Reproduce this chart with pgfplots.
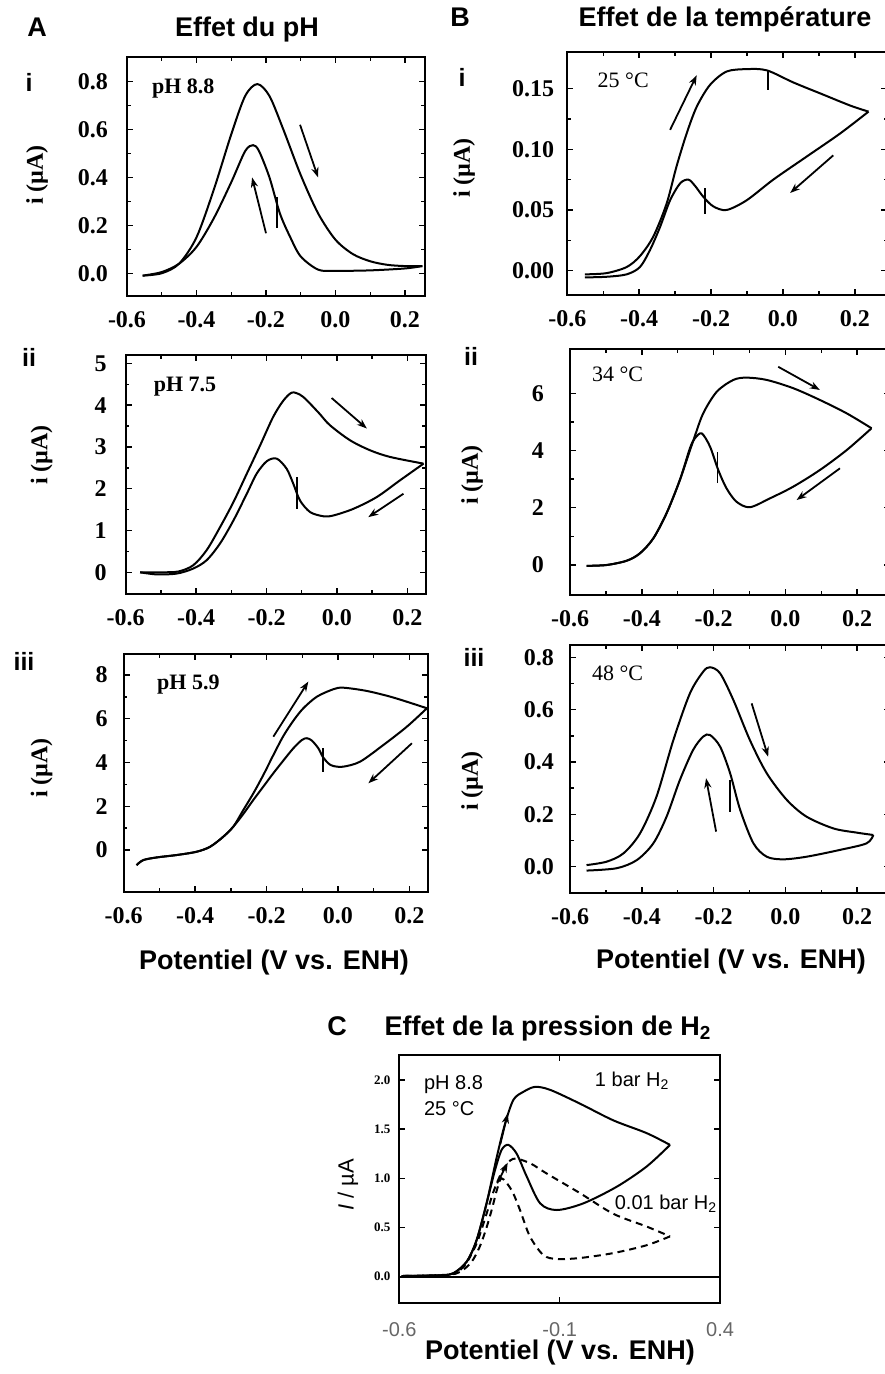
\documentclass[border=0pt]{standalone}
\usepackage{pgfplots}
\pgfplotsset{compat=1.18}
\usepackage{fontspec}
\setmainfont{Liberation Serif}
\setsansfont{Liberation Sans}
\usetikzlibrary{arrows.meta}

\pgfplotsset{
  cv/.style={
    scale only axis, anchor=south west,
    axis line style={line width=0.9pt},
    every tick/.style={black, line width=0.7pt},
    major tick length=3pt, minor tick length=1.8pt,
    tick pos=both, tick align=inside,
    xticklabel pos=lower, yticklabel pos=left,
    tick label style={font=\bfseries\fontsize{12}{12}\selectfont},
    /pgf/number format/assume math mode=true,
    xticklabel style={yshift=-4pt},
    minor x tick num=1, minor y tick num=1,
    xtick={-0.6,-0.4,-0.2,0,0.2}, xticklabels={-0.6,-0.4,-0.2,0.0,0.2},
  },
  cvl/.style={black, line width=1pt, smooth, tension=0.5, mark=none},
}
\tikzset{
  arr/.style={-{Stealth[length=5pt,width=3.6pt]}, line width=0.9pt},
  mk/.style={line width=0.9pt},
}
\newcommand{\ttl}{\sffamily\bfseries\fontsize{13.5}{14}\selectfont}
\newcommand{\rom}{\sffamily\bfseries\fontsize{12.5}{13}\selectfont}
\newcommand{\ylab}{\bfseries\fontsize{12}{12}\selectfont}
\newcommand{\anA}{\bfseries\fontsize{11}{11}\selectfont}
\newcommand{\anB}{\fontsize{11}{11}\selectfont}
\newcommand{\anC}{\sffamily\fontsize{10}{10}\selectfont}

\begin{document}
\begin{tikzpicture}
\useasboundingbox (0,0) rectangle (442pt,-687pt);

% ---------------- titles and labels ----------------
\node[anchor=base,font=\ttl] at (18.5pt,-18.35pt) {A};
\node[anchor=base,font=\ttl] at (123.5pt,-18.35pt) {Effet du pH};
\node[anchor=base,font=\ttl] at (230pt,-13.35pt) {B};
\node[anchor=base,font=\ttl] at (362.5pt,-13.35pt) {Effet de la température};
\node[anchor=base,font=\ttl] at (168.5pt,-517.5pt) {C};
\node[anchor=base,font=\ttl] at (274pt,-517.5pt) {Effet de la pression de H\textsubscript{2}};

\node[anchor=base,font=\rom] at (14.5pt,-45.85pt) {i};
\node[anchor=base,font=\rom] at (14.5pt,-183.35pt) {ii};
\node[anchor=base,font=\rom] at (12pt,-335pt) {iii};
\node[anchor=base,font=\rom] at (231pt,-43.35pt) {i};
\node[anchor=base,font=\rom] at (235.5pt,-182.5pt) {ii};
\node[anchor=base,font=\rom] at (237pt,-333.35pt) {iii};

\node[rotate=90,font=\ylab] at (18.5pt,-87.5pt) {i (µA)};
\node[rotate=90,font=\ylab] at (20.85pt,-227.5pt) {i (µA)};
\node[rotate=90,font=\ylab] at (20.85pt,-384pt) {i (µA)};
\node[rotate=90,font=\ylab] at (232pt,-84pt) {i (µA)};
\node[rotate=90,font=\ylab] at (236pt,-237.5pt) {i (µA)};
\node[rotate=90,font=\ylab] at (236pt,-390.5pt) {i (µA)};
\node[rotate=90,font=\sffamily\fontsize{11}{11}\selectfont] at (174pt,-592.5pt) {\textit{I} / µA};

\node[anchor=base,font=\ttl] at (137pt,-484.65pt) {Potentiel (V vs. ENH)};
\node[anchor=base,font=\ttl] at (365.5pt,-484pt) {Potentiel (V vs. ENH)};
\node[anchor=base,font=\ttl] at (280pt,-679.5pt) {Potentiel (V vs. ENH)};

% ---------------- A-i : pH 8.8 ----------------
\begin{axis}[cv, at={(63.5pt,-148pt)}, width=149pt, height=119.5pt,
  xmin=-0.6, xmax=0.2576, ymin=-0.095, ymax=0.903,
  ytick={0,0.2,0.4,0.6,0.8}, yticklabels={0.0,0.2,0.4,0.6,0.8},
  yticklabel style={xshift=-6pt}]
\addplot[cvl] coordinates {(-0.555,-0.01) (-0.50,0.00) (-0.45,0.04) (-0.40,0.15) (-0.35,0.35) (-0.30,0.58) (-0.26,0.74) (-0.225,0.79) (-0.19,0.74) (-0.15,0.60) (-0.10,0.41) (-0.05,0.25) (0.00,0.14) (0.05,0.08) (0.10,0.05) (0.15,0.035) (0.20,0.03) (0.25,0.03)};
\addplot[cvl] coordinates {(0.25,0.03) (0.20,0.02) (0.10,0.012) (0.00,0.01) (-0.05,0.015) (-0.10,0.07) (-0.13,0.15) (-0.16,0.25) (-0.19,0.40) (-0.22,0.51) (-0.237,0.535) (-0.26,0.51) (-0.30,0.38) (-0.35,0.23) (-0.40,0.11) (-0.45,0.04) (-0.50,0.005) (-0.555,-0.01)};
\node[anchor=base west,font=\anA] at (axis cs:-0.548,0.75) {pH 8.8};
\draw[arr] (axis cs:-0.102,0.62) -- (axis cs:-0.05,0.40);
\draw[arr] (axis cs:-0.20,0.167) -- (axis cs:-0.24,0.40);
\draw[mk] (axis cs:-0.168,0.19) -- (axis cs:-0.168,0.32);
\end{axis}

% ---------------- A-ii : pH 7.5 ----------------
\begin{axis}[cv, at={(62.85pt,-297pt)}, width=150.15pt, height=119.5pt,
  xmin=-0.6, xmax=0.253, ymin=-0.519, ymax=5.199,
  ytick={0,1,2,3,4,5},
  yticklabel style={xshift=-6pt}]
\addplot[cvl] coordinates {(-0.559,0) (-0.50,0.0) (-0.45,0.02) (-0.408,0.17) (-0.370,0.53) (-0.332,1.08) (-0.294,1.68) (-0.256,2.36) (-0.218,3.04) (-0.181,3.72) (-0.152,4.11) (-0.128,4.30) (-0.105,4.25) (-0.086,4.12) (-0.05,3.80) (-0.020,3.52) (0.037,3.16) (0.094,2.92) (0.151,2.76) (0.246,2.60)};
\addplot[cvl] coordinates {(0.246,2.60) (0.179,2.20) (0.113,1.80) (0.047,1.52) (-0.010,1.36) (-0.038,1.34) (-0.076,1.44) (-0.105,1.72) (-0.124,2.12) (-0.143,2.48) (-0.171,2.72) (-0.199,2.66) (-0.228,2.36) (-0.256,1.88) (-0.294,1.24) (-0.332,0.69) (-0.370,0.29) (-0.408,0.09) (-0.455,-0.03) (-0.512,-0.05) (-0.559,0)};
\node[anchor=base west,font=\anA] at (axis cs:-0.540,4.32) {pH 7.5};
\draw[arr] (axis cs:-0.015,4.17) -- (axis cs:0.085,3.44);
\draw[arr] (axis cs:0.189,1.88) -- (axis cs:0.089,1.32);
\draw[mk] (axis cs:-0.114,1.52) -- (axis cs:-0.114,2.28);
\end{axis}

% ---------------- A-iii : pH 5.9 ----------------
\begin{axis}[cv, at={(61.85pt,-446pt)}, width=152.15pt, height=119pt,
  xmin=-0.6, xmax=0.252, ymin=-1.92, ymax=8.96,
  ytick={0,2,4,6,8},
  yticklabel style={xshift=-4.5pt}]
\addplot[cvl] coordinates {(-0.564,-0.69) (-0.545,-0.46) (-0.508,-0.34) (-0.452,-0.23) (-0.396,-0.08) (-0.358,0.15) (-0.321,0.61) (-0.293,1.07) (-0.265,1.83) (-0.237,2.59) (-0.209,3.43) (-0.181,4.34) (-0.153,5.21) (-0.125,5.91) (-0.097,6.48) (-0.059,7.01) (-0.013,7.35) (0.015,7.42) (0.081,7.27) (0.155,6.97) (0.249,6.48)};
\addplot[cvl] coordinates {(0.249,6.48) (0.193,5.64) (0.127,4.80) (0.062,4.04) (0.015,3.81) (-0.013,3.84) (-0.027,3.96) (-0.043,4.27) (-0.055,4.65) (-0.073,5.00) (-0.087,5.11) (-0.101,5.03) (-0.125,4.65) (-0.153,4.09) (-0.181,3.51) (-0.209,2.90) (-0.237,2.29) (-0.265,1.65) (-0.293,1.07) (-0.321,0.61) (-0.358,0.15) (-0.396,-0.08) (-0.452,-0.23) (-0.508,-0.34) (-0.545,-0.46) (-0.564,-0.69)};
\node[anchor=base west,font=\anA] at (axis cs:-0.526,7.32) {pH 5.9};
\draw[arr] (axis cs:-0.181,5.18) -- (axis cs:-0.083,7.70);
\draw[arr] (axis cs:0.207,4.88) -- (axis cs:0.085,3.05);
\draw[mk] (axis cs:-0.043,3.58) -- (axis cs:-0.043,4.65);
\end{axis}

% ---------------- B-i : 25 C ----------------
\begin{axis}[cv, at={(283.65pt,-147.5pt)}, width=159.95pt, height=121.5pt,
  xmin=-0.6, xmax=0.29, ymin=-0.020, ymax=0.1801,
  ytick={0,0.05,0.10,0.15}, yticklabels={0.00,0.05,0.10,0.15},
  yticklabel style={xshift=-3pt}]
\addplot[cvl] coordinates {(-0.551,-0.003) (-0.491,-0.002) (-0.435,0.003) (-0.398,0.012) (-0.361,0.028) (-0.324,0.055) (-0.296,0.086) (-0.268,0.113) (-0.240,0.135) (-0.203,0.153) (-0.157,0.164) (-0.101,0.166) (-0.045,0.165) (0.029,0.155) (0.112,0.145) (0.187,0.136) (0.238,0.131)};
\addplot[cvl] coordinates {(0.238,0.131) (0.159,0.113) (0.066,0.094) (-0.027,0.075) (-0.101,0.058) (-0.157,0.050) (-0.194,0.053) (-0.222,0.061) (-0.245,0.070) (-0.263,0.075) (-0.286,0.072) (-0.314,0.058) (-0.342,0.036) (-0.370,0.017) (-0.398,0.003) (-0.435,-0.003) (-0.491,-0.005) (-0.551,-0.0055)};
\node[anchor=base west,font=\anB] at (axis cs:-0.535,0.151) {25 °C};
\draw[arr] (axis cs:-0.314,0.116) -- (axis cs:-0.240,0.161);
\draw[arr] (axis cs:0.140,0.095) -- (axis cs:0.020,0.064);
\draw[mk] (axis cs:-0.041,0.149) -- (axis cs:-0.041,0.165);
\draw[mk] (axis cs:-0.217,0.047) -- (axis cs:-0.217,0.068);
\end{axis}

% ---------------- B-ii : 34 C ----------------
\begin{axis}[cv, at={(285pt,-297.5pt)}, width=159.75pt, height=122.85pt,
  xmin=-0.6, xmax=0.29, ymin=-1.049, ymax=7.541,
  ytick={0,2,4,6},
  yticklabel style={xshift=-9.5pt}]
\addplot[cvl] coordinates {(-0.554,-0.03) (-0.498,0) (-0.442,0.15) (-0.405,0.41) (-0.368,0.93) (-0.331,1.81) (-0.294,2.97) (-0.256,4.37) (-0.229,5.30) (-0.191,6.06) (-0.145,6.47) (-0.108,6.55) (-0.052,6.47) (0.022,6.18) (0.096,5.77) (0.171,5.30) (0.240,4.78)};
\addplot[cvl] coordinates {(0.240,4.78) (0.171,4.02) (0.096,3.32) (0.022,2.74) (-0.043,2.33) (-0.099,2.02) (-0.136,2.21) (-0.164,2.68) (-0.187,3.32) (-0.210,4.14) (-0.233,4.60) (-0.252,4.43) (-0.266,4.08) (-0.294,2.97) (-0.331,1.81) (-0.368,0.93) (-0.405,0.41) (-0.442,0.15) (-0.498,0) (-0.554,-0.03)};
\node[anchor=base west,font=\anB] at (axis cs:-0.558,6.41) {34 °C};
\draw[arr] (axis cs:-0.020,6.93) -- (axis cs:0.096,6.12);
\draw[arr] (axis cs:0.152,3.38) -- (axis cs:0.031,2.27);
\draw[mk] (axis cs:-0.189,2.86) -- (axis cs:-0.189,3.96);
\end{axis}

% ---------------- B-iii : 48 C ----------------
\begin{axis}[cv, at={(285pt,-446.67pt)}, width=159.75pt, height=124.17pt,
  xmin=-0.6, xmax=0.29, ymin=-0.102, ymax=0.847,
  ytick={0,0.2,0.4,0.6,0.8}, yticklabels={0.0,0.2,0.4,0.6,0.8},
  yticklabel style={xshift=-4.5pt}]
\addplot[cvl] coordinates {(-0.554,0.006) (-0.498,0.019) (-0.451,0.051) (-0.405,0.127) (-0.359,0.268) (-0.312,0.484) (-0.266,0.662) (-0.229,0.745) (-0.210,0.762) (-0.182,0.739) (-0.145,0.637) (-0.099,0.484) (-0.052,0.357) (0.004,0.255) (0.059,0.191) (0.134,0.146) (0.199,0.130) (0.245,0.121)};
\addplot[cvl] coordinates {(0.245,0.121) (0.226,0.089) (0.152,0.064) (0.059,0.038) (-0.006,0.028) (-0.052,0.038) (-0.089,0.089) (-0.126,0.217) (-0.154,0.357) (-0.182,0.459) (-0.210,0.503) (-0.229,0.497) (-0.257,0.446) (-0.294,0.331) (-0.331,0.191) (-0.368,0.089) (-0.414,0.025) (-0.470,-0.006) (-0.554,-0.015)};
\node[anchor=base west,font=\anB] at (axis cs:-0.558,0.711) {48 °C};
\draw[arr] (axis cs:-0.094,0.624) -- (axis cs:-0.048,0.420);
\draw[arr] (axis cs:-0.193,0.134) -- (axis cs:-0.221,0.338);
\draw[mk] (axis cs:-0.154,0.210) -- (axis cs:-0.154,0.331);
\end{axis}

% ---------------- C : H2 pressure ----------------
\begin{axis}[cv, at={(199.67pt,-651.67pt)}, width=160.35pt, height=124.17pt,
  xmin=-0.6, xmax=0.4, ymin=-0.271, ymax=2.254,
  axis line style={line width=1.1pt},
  minor x tick num=0, minor y tick num=0,
  xtick={-0.6,-0.1,0.4}, xticklabels={-0.6,-0.1,0.4},
  ytick={0,0.5,1,1.5,2}, yticklabels={0.0,0.5,1.0,1.5,2.0},
  xticklabel style={font=\sffamily\fontsize{10}{10}\selectfont, text=black!60, yshift=-2pt},
  yticklabel style={font=\bfseries\fontsize{6.5}{6.5}\selectfont, xshift=-1pt}]
\addplot[black, line width=1pt, mark=none] coordinates {(-0.6,0) (0.4,0)};
\addplot[cvl, dash pattern=on 3.5pt off 2.5pt] coordinates {(-0.593,0.007) (-0.45,0.02) (-0.40,0.10) (-0.36,0.33) (-0.33,0.62) (-0.307,0.86) (-0.281,1.06) (-0.255,1.18) (-0.234,1.20) (-0.190,1.15) (-0.141,1.05) (-0.037,0.85) (0.067,0.64) (0.171,0.51) (0.244,0.41)};
\addplot[cvl, dash pattern=on 3.5pt off 2.5pt] coordinates {(0.244,0.41) (0.171,0.32) (0.067,0.24) (-0.037,0.19) (-0.109,0.18) (-0.151,0.22) (-0.193,0.41) (-0.224,0.68) (-0.250,0.88) (-0.281,1.00) (-0.296,0.88) (-0.312,0.68) (-0.330,0.48) (-0.350,0.30) (-0.375,0.15) (-0.410,0.05) (-0.45,0.02) (-0.593,0.007)};
\addplot[cvl] coordinates {(-0.593,0.007) (-0.473,0.014) (-0.432,0.034) (-0.390,0.153) (-0.359,0.373) (-0.328,0.746) (-0.296,1.22) (-0.270,1.56) (-0.244,1.80) (-0.213,1.88) (-0.177,1.93) (-0.130,1.90) (-0.037,1.76) (0.067,1.59) (0.171,1.46) (0.244,1.34)};
\addplot[cvl] coordinates {(0.244,1.34) (0.171,1.12) (0.078,0.915) (-0.026,0.746) (-0.109,0.678) (-0.161,0.746) (-0.203,1.02) (-0.234,1.25) (-0.260,1.34) (-0.281,1.29) (-0.302,1.08) (-0.328,0.746) (-0.359,0.373) (-0.390,0.153) (-0.432,0.034) (-0.473,0.014) (-0.593,0.007)};
\draw[arr] (axis cs:-0.285,1.35) -- (axis cs:-0.262,1.66);
\draw[arr] (axis cs:-0.295,0.95) -- (axis cs:-0.262,1.16);
\node[anchor=base west,font=\anC] at (axis cs:-0.545,1.90) {pH 8.8};
\node[anchor=base west,font=\anC] at (axis cs:-0.545,1.64) {25 °C};
\node[anchor=base west,font=\anC] at (axis cs:-0.012,1.93) {1 bar H\textsubscript{2}};
\node[anchor=base west,font=\anC] at (axis cs:0.050,0.68) {0.01 bar H\textsubscript{2}};
\end{axis}
\end{tikzpicture}
\end{document}
